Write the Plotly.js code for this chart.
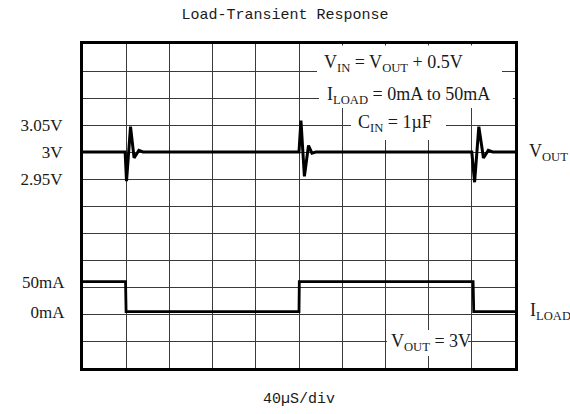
<!DOCTYPE html>
<html>
<head>
<meta charset="utf-8">
<script src="https://cdn.plot.ly/plotly-3.0.1.min.js"></script>
<style>html,body{margin:0;padding:0;background:#fff;}#chart{width:570px;height:414px;}</style>
</head>
<body>
<div id="chart"></div>
<script>
// Time in microseconds (40 µs per division, 10 divisions)
const timeRange = [0, 400];
// V_OUT trace (volts)
const voutTime = [0, 39.0, 40.3, 44.0, 47.3, 51.7, 55.5, 200.0, 201.8, 205.0, 208.8, 212.0, 215.5, 360.0, 362.6, 366.5, 370.8, 375.2, 379.4, 400];
const voutVolts = [3.0, 3.0, 2.946, 3.047, 2.989, 3.003, 3.0, 3.0, 3.058, 2.955, 3.012, 2.998, 3.0, 3.0, 2.944, 3.047, 2.989, 3.003, 3.0, 3.0];
// I_LOAD trace (mA)
const iloadTime = [0, 39.4, 39.9, 200.0, 200.3, 361.2, 361.8, 400];
const iloadMilliamps = [50, 50, 0, 0, 50, 50, 0, 0];
// Tick labels
const voltTicks = [2.95, 3.0, 3.05];
const voltLabels = ['2.95V', '3V', '3.05V'];
const currentTicks = [0, 50];
const currentLabels = ['0mA', '50mA'];
const voltRange = [2.6, 3.2];
const currentRange = [-93.8, 446.2];

const ink = '#1a1a1a';
const gridColor = '#3a3a3a';
const serif = 'Liberation Serif, DejaVu Serif, serif';
const mono = 'Liberation Mono, DejaVu Sans Mono, monospace';

const traces = [
  {x: voutTime, y: voutVolts, type: 'scatter', mode: 'lines', yaxis: 'y',
   line: {color: '#000', width: 3}, hoverinfo: 'skip', showlegend: false},
  {x: iloadTime, y: iloadMilliamps, type: 'scatter', mode: 'lines', yaxis: 'y2',
   line: {color: '#000', width: 2.8}, hoverinfo: 'skip', showlegend: false}
];

const gapRect = (x0, x1, y0, y1) => ({type: 'rect', xref: 'paper', yref: 'paper', x0, x1, y0, y1,
  fillcolor: '#fff', line: {width: 0}, layer: 'above'});

const layout = {
  width: 570, height: 414,
  margin: {l: 83, r: 55, t: 44, b: 46},
  paper_bgcolor: '#fff', plot_bgcolor: '#fff',
  showlegend: false,
  title: {text: 'Load-Transient Response', font: {family: mono, size: 15, color: ink},
          x: 0.5, xanchor: 'center', y: 1 - 14/414, yanchor: 'middle', yref: 'container'},
  xaxis: {range: timeRange, tick0: 0, dtick: 40, showgrid: true, gridcolor: gridColor, gridwidth: 1,
          zeroline: false, showticklabels: false, ticks: '',
          showline: true, mirror: true, linecolor: '#000', linewidth: 3,
          title: {text: '40µS/div', font: {family: mono, size: 15, color: ink}, standoff: 23}},
  yaxis: {range: voltRange, tickmode: 'array', tickvals: voltTicks, ticktext: voltLabels,
          showgrid: true, gridcolor: gridColor, gridwidth: 1, zeroline: false,
          minor: {tickmode: 'linear', tick0: 2.6, dtick: 0.05, showgrid: true, gridcolor: gridColor, gridwidth: 1, ticks: ''},
          ticks: 'outside', ticklen: 14, tickcolor: 'rgba(0,0,0,0)',
          tickfont: {family: serif, size: 17, color: ink},
          showline: true, mirror: true, linecolor: '#000', linewidth: 3},
  yaxis2: {range: currentRange, overlaying: 'y', side: 'left', anchor: 'x',
           tickmode: 'array', tickvals: currentTicks, ticktext: currentLabels,
           showgrid: false, zeroline: false, showline: false,
           ticks: 'outside', ticklen: 14, tickcolor: 'rgba(0,0,0,0)',
           tickfont: {family: serif, size: 17, color: ink}},
  shapes: [
    gapRect(0.5417, 0.9699, 0.8765, 0.995),
    gapRect(0.5463, 0.995, 0.8025, 0.8765),
    gapRect(0.6204, 0.8403, 0.7037, 0.8025),
    gapRect(0.7037, 0.8912, 0.037, 0.1173)
  ],
  annotations: [
    {text: 'V<sub>IN</sub> = V<sub>OUT</sub> + 0.5V', xref: 'paper', yref: 'paper', x: 0.5532, y: 0.9400,
     xanchor: 'left', yanchor: 'middle', showarrow: false, font: {family: serif, size: 18, color: ink}},
    {text: 'I<sub>LOAD</sub> = 0mA to 50mA', xref: 'paper', yref: 'paper', x: 0.5595, y: 0.8420,
     xanchor: 'left', yanchor: 'middle', showarrow: false, font: {family: serif, size: 18, color: ink}},
    {text: 'C<sub>IN</sub> = 1µF', xref: 'paper', yref: 'paper', x: 0.6319, y: 0.7540,
     xanchor: 'left', yanchor: 'middle', showarrow: false, font: {family: serif, size: 18, color: ink}},
    {text: 'V<sub>OUT</sub> = 3V', xref: 'paper', yref: 'paper', x: 0.8044, y: 0.0802,
     xanchor: 'center', yanchor: 'middle', showarrow: false, font: {family: serif, size: 18, color: ink}},
    {text: 'V<sub>OUT</sub>', xref: 'paper', yref: 'y', x: 1.0278, y: 3.0,
     xanchor: 'left', yanchor: 'middle', showarrow: false, font: {family: serif, size: 18, color: ink}},
    {text: 'I<sub>LOAD</sub>', xref: 'paper', yref: 'y2', x: 1.030, y: 0,
     xanchor: 'left', yanchor: 'middle', showarrow: false, font: {family: serif, size: 18, color: ink}}
  ]
};

Plotly.newPlot('chart', traces, layout, {staticPlot: true, displayModeBar: false});
</script>
</body>
</html>
